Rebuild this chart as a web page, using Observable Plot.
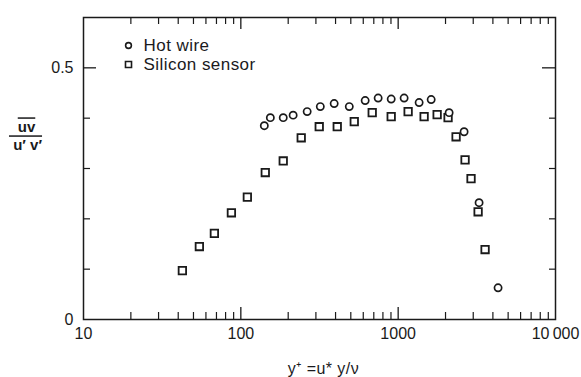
<!DOCTYPE html>
<html>
<head>
<meta charset="utf-8">
<script src="https://cdn.jsdelivr.net/npm/d3@7"></script>
<script src="https://cdn.jsdelivr.net/npm/@observablehq/plot@0.6"></script>
<style>
  html, body { margin: 0; padding: 0; background: #fff; }
  #chart svg { font-family: "Liberation Sans", Arial, sans-serif; }
</style>
</head>
<body>
<div id="chart"></div>
<script>
// Hot wire (circles)
const hotX = [141, 154, 186, 215, 264, 320, 392, 489, 617, 746, 903, 1091, 1359, 1621, 2108, 2624, 3268, 4315];
const hotY = [0.385, 0.401, 0.401, 0.406, 0.413, 0.423, 0.429, 0.423, 0.435, 0.440, 0.438, 0.440, 0.431, 0.437, 0.411, 0.373, 0.232, 0.063];
// Silicon sensor (squares)
const siX = [42.5, 54.5, 67.9, 87.1, 110, 143, 186, 242, 315, 410, 526, 684, 903, 1157, 1462, 1769, 2076, 2334, 2662, 2905, 3222, 3568];
const siY = [0.097, 0.145, 0.171, 0.212, 0.243, 0.292, 0.315, 0.361, 0.383, 0.383, 0.393, 0.411, 0.403, 0.413, 0.403, 0.407, 0.401, 0.363, 0.317, 0.280, 0.214, 0.139];

const seriesNames = ["Hot wire", "Silicon sensor"];
const xTickValues = [10, 100, 1000, 10000];
const xTickLabels = ["10", "100", "1000", "10\u2009000"];
const yTickValues = [0, 0.5];
const yTickLabels = ["0", "0.5"];
const xMajorTicks = [100, 1000];
const xMinorTicks = [2,3,4,5,6,7,8,9].flatMap(m => [10, 100, 1000].map(d => m * d));
const yMinorTicks = [0.1, 0.2, 0.3, 0.4];
const yMajorTicks = [0.5];
const xLabel = "y\u207A =u* y/\u03BD";
const yLabelTop = "uv";
const yLabelBottom = "\u00A0u\u2032\u00A0v\u2032";

const hot = hotX.map((x, i) => ({x, y: hotY[i]}));
const si = siX.map((x, i) => ({x, y: siY[i]}));

const W = 581, H = 377;
const mL = 83, mR = 26, mT = 17, mB = 58;
const fw = W - mL - mR, fh = H - mT - mB;
const ink = "#1a1a1a";

const plot = Plot.plot({
  width: W,
  height: H,
  marginLeft: mL,
  marginRight: mR,
  marginTop: mT,
  marginBottom: mB,
  style: {fontSize: "16px", fontFamily: "Liberation Sans, Arial, sans-serif", color: ink, background: "#fff"},
  x: {type: "log", domain: [10, 10000]},
  y: {domain: [0, 0.6]},
  marks: [
    Plot.frame({stroke: ink, strokeWidth: 1.5}),
    // bottom ticks (inward)
    Plot.ruleX(xMinorTicks, {x: d => d, insetTop: fh - 7, stroke: ink, strokeWidth: 1.2}),
    Plot.ruleX(xMajorTicks, {x: d => d, insetTop: fh - 12, stroke: ink, strokeWidth: 1.3}),
    // top ticks (inward)
    Plot.ruleX(xMinorTicks, {x: d => d, insetBottom: fh - 7, stroke: ink, strokeWidth: 1.2}),
    Plot.ruleX(xMajorTicks, {x: d => d, insetBottom: fh - 12, stroke: ink, strokeWidth: 1.3}),
    // left ticks
    Plot.ruleY(yMinorTicks, {y: d => d, insetRight: fw - 7, stroke: ink, strokeWidth: 1.2}),
    Plot.ruleY(yMajorTicks, {y: d => d, insetRight: fw - 13, stroke: ink, strokeWidth: 1.3}),
    // right ticks
    Plot.ruleY(yMinorTicks, {y: d => d, insetLeft: fw - 6, stroke: ink, strokeWidth: 1.2}),
    Plot.ruleY(yMajorTicks, {y: d => d, insetLeft: fw - 13, stroke: ink, strokeWidth: 1.3}),
    Plot.axisX({ticks: xTickValues, tickFormat: (d, i) => xTickLabels[xTickValues.indexOf(d)], tickSize: 0, tickPadding: 8, label: null, fontSize: 16, fill: ink}),
    Plot.axisY({ticks: yTickValues, tickFormat: d => yTickLabels[yTickValues.indexOf(d)], tickSize: 0, tickPadding: 10, label: null, fontSize: 16, fill: ink}),
    // data
    Plot.dot(si, {x: "x", y: "y", symbol: "square", r: 4.2, stroke: ink, strokeWidth: 1.8, fill: "white"}),
    Plot.dot(hot, {x: "x", y: "y", symbol: "circle", r: 3.6, stroke: ink, strokeWidth: 1.7, fill: "white"}),
    // legend
    Plot.dot([seriesNames[0]], {frameAnchor: "top-left", dx: 45, dy: 28, symbol: "circle", r: 2.9, stroke: ink, strokeWidth: 1.6, fill: "white"}),
    Plot.dot([seriesNames[1]], {frameAnchor: "top-left", dx: 45, dy: 47, symbol: "square", r: 3.4, stroke: ink, strokeWidth: 1.6, fill: "white"}),
    Plot.text([seriesNames[0]], {text: d => d, frameAnchor: "top-left", dx: 60, dy: 28, textAnchor: "start", lineAnchor: "middle", fontSize: 17, fill: "#1a1a1d"}),
    Plot.text([seriesNames[1]], {text: d => d, frameAnchor: "top-left", dx: 60, dy: 47, textAnchor: "start", lineAnchor: "middle", fontSize: 17, fill: "#1a1a1d"}),
    // axis titles
    Plot.text([xLabel], {text: d => d, frameAnchor: "bottom", dx: 4, dy: 49, lineAnchor: "middle", fontSize: 16, fill: "#1a1a1d"}),
    Plot.text([yLabelTop], {text: d => d, frameAnchor: "left", dx: -57, dy: -41, textAnchor: "middle", lineAnchor: "middle", fontSize: 15, fontWeight: "bold", fill: "#1a1a1b"}),
    Plot.text([yLabelBottom], {text: d => d, frameAnchor: "left", dx: -58, dy: -23, textAnchor: "middle", lineAnchor: "middle", fontSize: 15, fontWeight: "bold", fill: "#1a1a1c"})
  ]
});

d3.select(plot).selectAll('g[fill="#1a1a1b"] text, g[fill="#1a1a1c"] text')
  .style("text-decoration", "overline");
d3.select(plot).selectAll('g[fill="#1a1a1d"] text')
  .style("letter-spacing", "0.45px");

document.getElementById("chart").appendChild(plot);
</script>
</body>
</html>
